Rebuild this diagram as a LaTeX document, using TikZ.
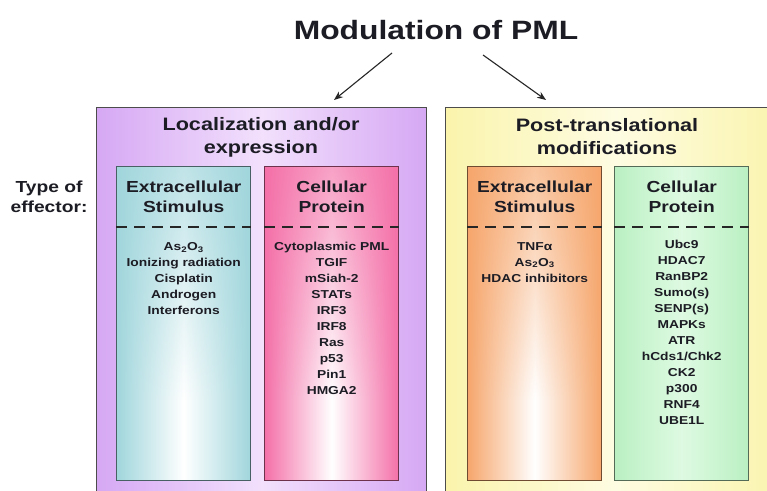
\documentclass[tikz,border=0pt]{standalone}
\usepackage{fontspec}
\setmainfont[FakeStretch=1.2]{Liberation Sans}
\usepackage{tikz}
\usetikzlibrary{positioning}
\usetikzlibrary{arrows.meta,fadings}

\definecolor{ink}{RGB}{28,28,36}
\definecolor{lilac}{RGB}{214,168,244}
\definecolor{lilaclt}{RGB}{242,224,252}
\definecolor{straw}{RGB}{250,244,172}
\definecolor{strawlt}{RGB}{254,252,226}
\definecolor{teal}{RGB}{160,214,220}
\definecolor{rose}{RGB}{244,112,168}
\definecolor{peach}{RGB}{246,166,108}
\definecolor{mint}{RGB}{186,240,194}
\definecolor{mintlt}{RGB}{222,250,226}

\tikzfading[name=fadedown, top color=transparent!35, bottom color=transparent!100]

\begin{document}
\begin{tikzpicture}[x=1pt,y=-1pt,>={Stealth[length=9pt,width=7pt]},
  outerbox/.style={draw=black!70,line width=1.3pt,anchor=north west,minimum height=400pt},
  innerbox/.style={draw=#1!45!black,line width=1.4pt,anchor=north west,minimum width=134pt,minimum height=314pt},
  head/.style={align=center,text=ink,font=\fontsize{18}{23}\selectfont\bfseries},
  subhead/.style={align=center,text=ink,font=\fontsize{16}{20}\selectfont\bfseries},
  items/.style={align=center,text=ink,inner sep=0pt,font=\fontsize{11.5}{16}\selectfont\bfseries},
  sep/.style={dash pattern=on 11pt off 7pt,line width=2.4pt,black!85}]
  \useasboundingbox (0,0) rectangle (767,490);
  \fill[white] (0,0) rectangle (767,490);

  % big boxes
  \node[outerbox,minimum width=330pt,left color=lilac,right color=lilac,middle color=lilaclt] (LocBox) at (96,107) {};
  \node[outerbox,minimum width=340pt,left color=straw,right color=straw,middle color=strawlt] (PtmBox) at (445,107) {};

  \node[head] (LocHead) at (261,137) {Localization and/or\\expression};
  \node[head] (PtmHead) at (607,137) {Post-translational\\modifications};
  \node[subhead] (Effector) at (49,197) {Type of\\effector:};

  % inner columns
  \node[innerbox=teal,left color=teal,right color=teal,middle color=white] (ExtA) at (116,166) {};
  \node[innerbox=rose,left color=rose,right color=rose,middle color=white] (ProtA) at (264,166) {};
  \node[innerbox=peach,left color=peach,right color=peach,middle color=white] (ExtB) at (467,166) {};
  \node[innerbox=mint,left color=mint,right color=mint,middle color=mintlt] (ProtB) at (614,166) {};
  \fill[teal,path fading=fadedown] (117,167) rectangle (249,400);
  \fill[rose,path fading=fadedown] (265,167) rectangle (397,400);
  \fill[peach,path fading=fadedown] (468,167) rectangle (601,400);

  \foreach \b in {ExtA,ProtA,ExtB,ProtB}
    \draw[sep] ([yshift=-61pt]\b.north west) -- ([yshift=-61pt]\b.north east);

  \node[subhead] (ExtAHead) at (ExtA.north) [yshift=-31pt] {Extracellular\\Stimulus};
  \node[subhead] (ProtAHead) at (ProtA.north) [yshift=-31pt] {Cellular\\Protein};
  \node[subhead] (ExtBHead) at (ExtB.north) [yshift=-31pt] {Extracellular\\Stimulus};
  \node[subhead] (ProtBHead) at (ProtB.north) [yshift=-31pt] {Cellular\\Protein};

  \node[items,below=76pt of ExtA.north] (ExtAList)
    {As\textsubscript{2}O\textsubscript{3}\\Ionizing radiation\\Cisplatin\\Androgen\\Interferons};
  \node[items,below=76pt of ProtA.north] (ProtAList)
    {Cytoplasmic PML\\TGIF\\mSiah-2\\STATs\\IRF3\\IRF8\\Ras\\p53\\Pin1\\HMGA2};
  \node[items,below=76pt of ExtB.north] (ExtBList)
    {TNFα\\As\textsubscript{2}O\textsubscript{3}\\HDAC inhibitors};
  \node[items,below=74pt of ProtB.north] (ProtBList)
    {Ubc9\\HDAC7\\RanBP2\\Sumo(s)\\SENP(s)\\MAPKs\\ATR\\hCds1/Chk2\\CK2\\p300\\RNF4\\UBE1L};

  % title and arrows
  \node[text=ink,font=\fontsize{26.5}{30}\selectfont\bfseries] (Title) at (436,30) {Modulation of PML};
  \coordinate (LeftFrom) at (392,53);
  \coordinate (LeftTo) at (334,100);
  \coordinate (RightFrom) at (483,55);
  \coordinate (RightTo) at (546,100);
  \draw[->,line width=1.1pt,black!85] (LeftFrom) -- (LeftTo);
  \draw[->,line width=1.1pt,black!85] (RightFrom) -- (RightTo);
\end{tikzpicture}
\end{document}
